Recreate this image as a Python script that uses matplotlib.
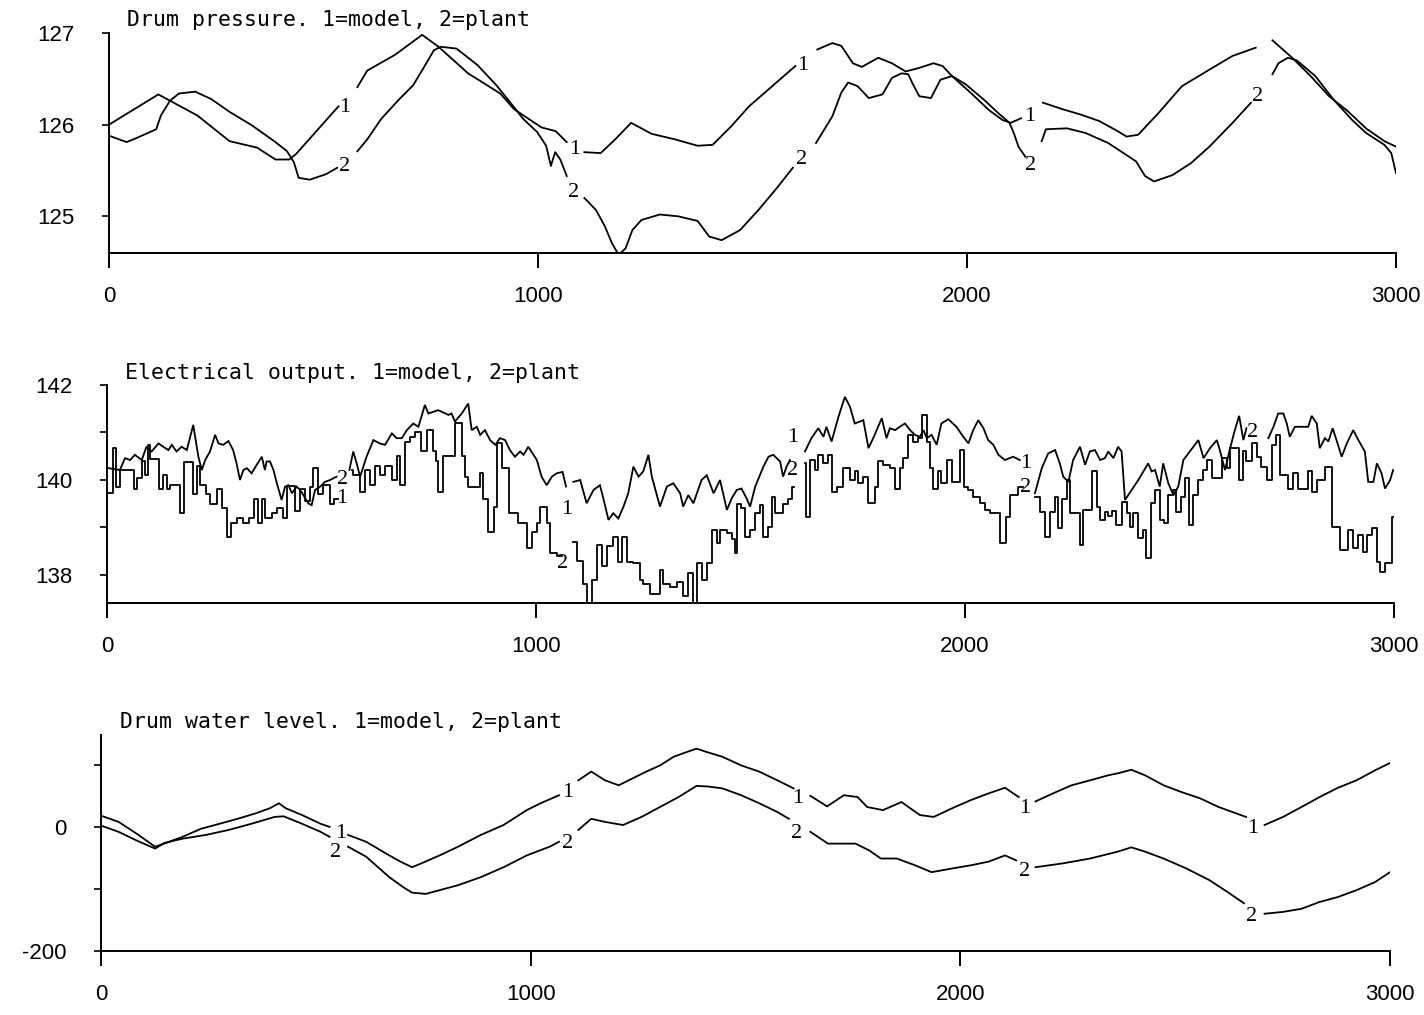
import numpy as np
import matplotlib
matplotlib.use("Agg")
import matplotlib.pyplot as plt

nan = np.nan

# ---------------- Panel 1: Drum pressure ----------------
dp_title = "Drum pressure. 1=model, 2=plant"
dp_model_t = [0, 115, 206, 281, 345, 388, 420, 436, 535, 555, 579, 602, 666, 730, 768, 837, 912, 944,
              1008, 1041, 1067, 1085, 1108, 1146, 1180, 1217, 1265, 1319, 1372, 1407, 1450, 1492, 1546,
              1600, 1625, 1651, 1686, 1707, 1734, 1755, 1793, 1825, 1857, 1889, 1922, 1943, 1965, 2008,
              2051, 2083, 2102, 2126, 2150, 2177, 2222, 2265, 2308, 2351, 2372, 2399, 2447, 2501, 2565,
              2619, 2673, 2690, 2712, 2758, 2801, 2844, 2887, 2930, 2973, 3000]
dp_model = [126.0, 126.33, 126.1, 125.82, 125.75, 125.62, 125.62, 125.68, 126.2, nan, 126.41, 126.59,
            126.76, 126.98, 126.85, 126.56, 126.34, 126.17, 125.97, 125.93, 125.81, nan, 125.7, 125.69,
            125.84, 126.02, 125.9, 125.84, 125.77, 125.78, 125.98, 126.2, 126.42, 126.64, nan, 126.82,
            126.89, 126.86, 126.67, 126.63, 126.73, 126.67, 126.58, 126.62, 126.67, 126.64, 126.53,
            126.35, 126.16, 126.05, 126.02, 126.07, nan, 126.24, 126.17, 126.11, 126.04, 125.93, 125.87,
            125.89, 126.13, 126.42, 126.6, 126.75, 126.84, nan, 126.92, 126.73, 126.53, 126.31, 126.15,
            125.96, 125.82, 125.76]
dp_plant_t = [0, 41, 67, 110, 121, 142, 163, 201, 238, 281, 334, 388, 415, 431, 442, 468, 506, 532, 555,
              579, 602, 634, 677, 709, 741, 757, 773, 810, 859, 903, 934, 966, 998, 1019, 1030, 1040,
              1052, 1067, 1085, 1108, 1135, 1156, 1172, 1188, 1204, 1220, 1241, 1284, 1327, 1372, 1399,
              1428, 1471, 1514, 1557, 1594, 1620, 1648, 1686, 1707, 1723, 1745, 1771, 1803, 1825, 1847,
              1863, 1874, 1889, 1916, 1938, 1965, 1997, 2040, 2072, 2099, 2109, 2120, 2136, 2155, 2174,
              2184, 2233, 2276, 2329, 2394, 2415, 2436, 2479, 2522, 2565, 2619, 2662, 2690, 2712, 2726,
              2748, 2769, 2812, 2855, 2898, 2930, 2973, 2989, 3000]
dp_plant = [125.88, 125.81, 125.86, 125.95, 126.1, 126.26, 126.34, 126.36, 126.28, 126.14, 125.99, 125.81,
            125.71, 125.59, 125.42, 125.4, 125.46, 125.53, nan, 125.71, 125.84, 126.06, 126.28, 126.43,
            126.68, 126.81, 126.85, 126.83, 126.65, 126.43, 126.25, 126.06, 125.92, 125.77, 125.55,
            125.7, 125.62, 125.44, nan, 125.2, 125.07, 124.89, 124.71, 124.58, 124.65, 124.85, 124.96,
            125.02, 125.0, 124.95, 124.78, 124.74, 124.85, 125.07, 125.31, 125.53, nan, 125.8, 126.09,
            126.35, 126.46, 126.42, 126.29, 126.33, 126.51, 126.56, 126.55, 126.44, 126.31, 126.29,
            126.49, 126.53, 126.44, 126.27, 126.13, 126.02, 125.91, 125.76, 125.65, nan, 125.82, 125.95,
            125.96, 125.91, 125.8, 125.6, 125.44, 125.38, 125.45, 125.58, 125.76, 126.02, 126.24, nan,
            126.55, 126.67, 126.73, 126.7, 126.53, 126.27, 126.05, 125.91, 125.78, 125.69, 125.47]
dp_labels = [(550, 126.19, "1"), (550, 125.54, "2"), (1086, 125.73, "1"), (1082, 125.26, "2"),
             (1618, 126.64, "1"), (1615, 125.62, "2"), (2147, 126.09, "1"), (2147, 125.56, "2"),
             (2678, 126.31, "2")]
dp_yticks = [125, 126, 127]
dp_yticklabels = ["125", "126", "127"]

# ---------------- Panel 2: Electrical output ----------------
eo_title = "Electrical output. 1=model, 2=plant"
eo_model_t = [3, 30, 42, 54, 65, 81, 92, 104, 120, 131, 143, 151, 162, 174, 186, 201, 213, 221, 229, 240,
              252, 260, 271, 283, 294, 302, 310, 318, 326, 337, 349, 361, 368, 372, 380, 388, 396, 407,
              415, 423, 431, 442, 450, 458, 469, 477, 485, 497, 508, 520, 535, 550, 565, 574, 582, 590,
              605, 621, 636, 648, 664, 675, 687, 699, 714, 726, 741, 749, 772, 796, 803, 811, 827, 842,
              850, 862, 870, 881, 893, 905, 916, 928, 939, 951, 963, 971, 982, 994, 1002, 1013, 1025,
              1037, 1048, 1062, 1070, 1078, 1087, 1103, 1118, 1134, 1149, 1157, 1169, 1180, 1192, 1204,
              1215, 1227, 1239, 1250, 1262, 1270, 1289, 1305, 1320, 1336, 1343, 1355, 1367, 1375, 1386,
              1398, 1414, 1429, 1445, 1456, 1468, 1479, 1491, 1499, 1511, 1530, 1542, 1553, 1569, 1576,
              1584, 1592, 1610, 1627, 1642, 1658, 1670, 1677, 1689, 1705, 1720, 1732, 1743, 1755, 1763,
              1775, 1786, 1794, 1806, 1817, 1825, 1837, 1848, 1860, 1872, 1883, 1895, 1903, 1911, 1922,
              1934, 1945, 1961, 1980, 1996, 2008, 2019, 2031, 2043, 2054, 2066, 2078, 2093, 2112, 2128,
              2145, 2163, 2179, 2194, 2210, 2221, 2229, 2241, 2252, 2268, 2280, 2291, 2303, 2315, 2326,
              2334, 2346, 2357, 2365, 2373, 2404, 2427, 2435, 2443, 2454, 2462, 2474, 2486, 2497, 2509,
              2524, 2544, 2556, 2571, 2587, 2594, 2606, 2618, 2629, 2639, 2649, 2656, 2680, 2707, 2719,
              2730, 2742, 2750, 2757, 2769, 2785, 2800, 2808, 2820, 2827, 2839, 2847, 2857, 2866, 2878,
              2890, 2905, 2917, 2932, 2940, 2952, 2960, 2971, 2979, 2991, 2998]
eo_model = [140.25, 140.21, 140.46, 140.42, 140.53, 140.42, 140.7, 140.6, 140.77, 140.7, 140.63, 140.74,
            140.6, 140.7, 140.63, 141.16, 140.49, 140.21, 140.42, 140.6, 140.95, 140.77, 140.74, 140.82,
            140.63, 140.35, 140.0, 140.21, 140.25, 140.14, 140.32, 140.49, 140.21, 140.39, 140.39,
            140.21, 139.93, 139.58, 139.86, 139.89, 139.72, 139.86, 139.79, 139.68, 139.51, 139.47,
            139.79, 139.86, 139.96, 140.0, 140.07, nan, 140.21, 140.6, 140.35, 140.07, 140.49, 140.84,
            140.77, 140.74, 140.98, 140.88, 140.88, 141.05, 141.19, 141.12, 141.58, 141.4, 141.47,
            141.37, 141.4, 141.23, 141.4, 141.61, 141.05, 141.12, 140.95, 141.05, 140.84, 140.74,
            140.88, 140.84, 140.63, 140.49, 140.6, 140.53, 140.7, 140.53, 140.42, 140.07, 139.89, 140.07,
            140.14, 140.17, 139.86, nan, 139.96, 140.0, 139.51, 139.79, 139.89, 139.61, 139.16, 139.3,
            139.19, 139.44, 139.72, 140.28, 140.07, 140.18, 140.53, 140.07, 139.44, 139.86, 139.93,
            139.72, 139.44, 139.68, 139.51, 139.72, 140.0, 140.1, 139.72, 140.0, 139.37, 139.61, 139.79,
            139.82, 139.61, 139.44, 139.86, 140.28, 140.49, 140.53, 140.39, 140.07, 140.28, 140.42, nan,
            140.6, 140.88, 141.09, 140.91, 141.12, 140.81, 141.33, 141.75, 141.54, 141.19, 141.23,
            141.26, 140.67, 140.88, 141.05, 141.3, 140.88, 141.09, 141.05, 141.12, 141.19, 141.05,
            140.95, 140.91, 141.05, 140.88, 140.95, 140.74, 141.19, 141.28, 141.12, 140.91, 140.77,
            141.05, 141.26, 141.09, 140.84, 140.74, 140.53, 140.42, 140.49, 140.42, nan, 139.72, 140.25,
            140.56, 140.63, 140.35, 140.07, 139.96, 140.42, 140.7, 140.32, 140.6, 140.63, 140.42, 140.46,
            140.6, 140.46, 140.7, 140.6, 139.58, 140.0, 140.35, 140.18, 140.21, 139.86, 140.35, 139.93,
            139.68, 139.86, 140.42, 140.6, 140.84, 140.46, 140.67, 140.84, 140.63, 140.21, 140.67,
            141.05, 141.35, 140.84, 141.09, nan, 140.88, 141.12, 141.4, 141.4, 141.19, 140.91, 141.12,
            141.12, 141.12, 141.35, 141.19, 140.67, 140.88, 140.81, 141.09, 140.84, 140.49, 140.77,
            141.05, 140.84, 140.6, 139.96, 139.96, 140.35, 140.14, 139.82, 140.0, 140.21]
# plant: level changes (steps)
eo_plant_t = [0, 13, 21, 30, 62, 71, 81, 89, 95, 100, 122, 131, 139, 147, 169, 180, 201, 210, 217, 231,
              240, 256, 267, 279, 290, 302, 318, 330, 343, 351, 361, 368, 384, 396, 411, 419, 438, 450,
              462, 473, 481, 493, 504, 520, 528, 539, 570, 574, 590, 601, 612, 625, 636, 648, 664, 675,
              683, 695, 706, 718, 731, 745, 761, 768, 772, 784, 811, 827, 835, 842, 870, 877, 889, 901,
              908, 920, 936, 959, 978, 990, 1002, 1009, 1025, 1033, 1048, 1060, 1087, 1095, 1110, 1118,
              1130, 1142, 1153, 1165, 1180, 1192, 1200, 1211, 1227, 1242, 1250, 1266, 1289, 1297, 1312,
              1328, 1343, 1355, 1367, 1375, 1386, 1398, 1410, 1421, 1429, 1445, 1456, 1464, 1468, 1479,
              1487, 1499, 1511, 1522, 1530, 1541, 1549, 1557, 1576, 1588, 1596, 1602, 1627, 1629, 1639,
              1650, 1658, 1670, 1681, 1689, 1701, 1716, 1732, 1743, 1751, 1763, 1775, 1790, 1798, 1809,
              1825, 1837, 1848, 1856, 1868, 1879, 1891, 1899, 1911, 1918, 1926, 1938, 1945, 1957, 1969,
              1988, 1998, 2008, 2019, 2035, 2046, 2058, 2081, 2095, 2105, 2124, 2136, 2163, 2175, 2186,
              2198, 2210, 2217, 2225, 2237, 2245, 2268, 2276, 2295, 2307, 2315, 2326, 2334, 2342, 2353,
              2365, 2377, 2385, 2392, 2404, 2416, 2423, 2433, 2443, 2454, 2464, 2474, 2486, 2493, 2503,
              2513, 2521, 2532, 2544, 2554, 2563, 2575, 2598, 2610, 2618, 2639, 2649, 2656, 2668, 2680,
              2691, 2703, 2715, 2726, 2734, 2754, 2765, 2777, 2799, 2808, 2821, 2839, 2855, 2874, 2893,
              2905, 2917, 2928, 2936, 2948, 2960, 2967, 2979, 2995, 3000]
eo_plant = [139.72, 140.67, 139.86, 140.2, 139.8, 140.05, 140.4, 140.1, 140.74, 140.45, 139.8, 140.1,
            139.8, 139.9, 139.3, 140.37, 139.7, 140.3, 139.9, 139.7, 139.5, 139.8, 139.4, 138.8, 139.1,
            139.2, 139.1, 139.2, 139.6, 139.1, 139.6, 139.2, 139.3, 139.4, 139.2, 139.87, 139.35, 139.8,
            139.55, 139.85, 140.25, 139.7, 139.9, 139.5, 139.6, nan, 140.2, 140.1, 139.75, 140.2, 139.9,
            140.3, 140.1, 140.3, 140.0, 140.5, 139.9, 140.8, 140.9, 141.0, 140.6, 141.05, 140.6, 140.4,
            139.75, 140.5, 141.2, 140.5, 140.07, 139.86, 140.14, 139.6, 138.9, 139.44, 140.77, 140.25,
            139.3, 139.1, 138.56, 138.9, 139.1, 139.44, 139.1, 138.46, 138.39, nan, 138.7, 138.3, 137.82,
            137.4, 137.9, 138.63, 138.18, 138.6, 138.8, 138.28, 138.8, 138.28, 138.25, 137.9, 137.8,
            137.6, 138.1, 137.82, 137.75, 137.85, 137.55, 138.04, 137.4, 138.25, 137.9, 138.25, 138.95,
            138.67, 138.95, 138.88, 138.75, 138.46, 139.5, 139.4, 138.8, 138.95, 139.3, 139.47, 138.8,
            139.0, 139.65, 139.3, 139.5, 139.6, 139.86, nan, 140.35, 139.23, 140.42, 140.21, 140.53,
            140.35, 140.53, 139.75, 139.86, 140.25, 140.0, 140.18, 139.93, 140.07, 139.51, 139.86,
            140.39, 140.32, 140.25, 139.82, 140.25, 140.46, 140.95, 140.81, 140.88, 141.37, 140.81,
            140.25, 139.82, 140.18, 139.93, 140.42, 139.96, 140.63, 139.86, 139.79, 139.65, 139.51,
            139.37, 139.3, 138.67, 139.23, 139.68, 139.86, nan, 139.65, 139.33, 138.81, 139.33, 139.65,
            138.98, 139.6, 140.0, 139.3, 138.63, 139.37, 140.18, 139.44, 139.16, 139.33, 139.25, 139.35,
            139.05, 139.54, 139.3, 139.0, 139.3, 138.77, 138.95, 138.35, 139.51, 139.79, 139.16, 139.1,
            139.68, 139.79, 139.33, 139.65, 140.04, 139.05, 139.68, 140.0, 140.21, 140.42, 140.04,
            140.46, 140.25, 140.67, 140.0, 140.6, 140.39, 140.77, 140.49, 140.28, 140.0, 140.74, 140.95,
            140.1, 139.82, 140.14, 139.82, 140.18, 139.75, 140.0, 140.28, 139.02, 138.53, 138.95,
            138.56, 138.84, 138.49, 138.85, 138.98, 138.28, 138.07, 138.25, 139.23, 139.23]
eo_labels = [(548, 139.62, "1"), (548, 140.0, "2"), (1072, 139.37, "1"), (1061, 138.25, "2"),
             (1599, 140.9, "1"), (1599, 140.2, "2"), (2142, 140.35, "1"), (2142, 139.84, "2"),
             (2671, 141.0, "2")]
eo_yticks = [138, 139, 140, 141, 142]
eo_yticklabels = ["138", "", "140", "", "142"]

# ---------------- Panel 3: Drum water level ----------------
wl_title = "Drum water level. 1=model, 2=plant"
wl_model_t = [0, 41, 83, 126, 147, 190, 233, 276, 318, 361, 393, 414, 430, 468, 511, 532, 550, 575, 617,
              671, 697, 724, 745, 788, 831, 884, 937, 991, 1023, 1066, 1088, 1111, 1141, 1173, 1205,
              1237, 1269, 1301, 1333, 1365, 1386, 1408, 1446, 1490, 1532, 1574, 1612, 1630, 1651, 1690,
              1729, 1761, 1783, 1820, 1863, 1906, 1938, 1981, 2024, 2066, 2104, 2136, 2155, 2175, 2216,
              2259, 2302, 2344, 2371, 2398, 2430, 2473, 2515, 2558, 2601, 2633, 2665, 2685, 2708, 2751,
              2794, 2836, 2879, 2922, 2965, 3000]
wl_model = [18, 8, -11, -32, -27, -16, -3, 5, 13, 22, 30, 38, 30, 19, 5, 0, nan, -13, -24, -46, -56, -65,
            -59, -46, -32, -13, 3, 27, 38, 51, nan, 75, 89, 75, 67, 78, 89, 99, 113, 121, 126, 121, 113,
            99, 89, 75, 62, nan, 50, 33, 51, 48, 32, 27, 40, 19, 16, 30, 43, 54, 63, 48, nan, 41, 54, 67,
            75, 83, 87, 92, 83, 67, 56, 46, 32, 24, 16, nan, 3, 16, 32, 48, 63, 75, 91, 103]
wl_plant_t = [0, 41, 83, 126, 147, 190, 244, 297, 350, 404, 425, 468, 511, 532, 550, 575, 617, 671, 703,
              724, 756, 788, 831, 884, 937, 991, 1044, 1066, 1088, 1111, 1141, 1173, 1215, 1258, 1301,
              1344, 1386, 1413, 1446, 1490, 1532, 1574, 1601, 1625, 1651, 1692, 1724, 1756, 1788, 1815,
              1852, 1895, 1933, 1981, 2024, 2066, 2104, 2130, 2155, 2175, 2237, 2302, 2366, 2398, 2430,
              2473, 2526, 2580, 2622, 2660, 2685, 2708, 2751, 2794, 2836, 2879, 2922, 2965, 3000]
wl_plant = [2, -8, -22, -35, -26, -19, -13, -5, 5, 16, 17, 5, -8, -16, nan, -32, -48, -81, -97, -106,
            -108, -102, -94, -81, -65, -46, -32, -24, nan, -5, 13, 8, 3, 16, 32, 48, 66, 65, 62, 51, 38,
            24, 13, nan, -8, -27, -27, -27, -38, -51, -51, -62, -73, -67, -62, -56, -46, -54, nan, -65,
            -59, -51, -40, -33, -40, -51, -67, -86, -105, -123, nan, -140, -137, -132, -121, -113, -102,
            -89, -73]
wl_labels = [(558, -10, "1"), (545, -41, "2"), (1087, 56, "1"), (1085, -26, "2"), (1622, 46, "1"),
             (1620, -11, "2"), (2150, 30, "1"), (2150, -72, "2"), (2681, -3, "1"), (2678, -145, "2")]
wl_yticks = [-200, -100, 0, 100]
wl_yticklabels = ["-200", "", "0", ""]

xticks = [0, 1000, 2000, 3000]
xticklabels = ["0", "1000", "2000", "3000"]

# ---------------- figure ----------------
W, H = 1424, 1015
fig = plt.figure(figsize=(W / 100, H / 100), dpi=100)
fig.patch.set_facecolor("white")

TICKFONT = {"family": ["Liberation Sans", "DejaVu Sans"], "size": 16}
LBLFONT = {"family": ["Liberation Serif", "DejaVu Serif"], "size": 16}
TITLEFONT = {"family": ["DejaVu Sans Mono"], "size": 15.5}


def px_axes(left, right, top, bottom):
    return [left / W, 1 - bottom / H, (right - left) / W, (bottom - top) / H]


panels = [
    dict(rect=px_axes(109, 1396, 33, 253), ylim=(124.6, 127.0), title=dp_title, title_xy=(127, 20),
         model=(dp_model_t, dp_model), plant=(dp_plant_t, dp_plant), step=False, labels=dp_labels,
         yt=dp_yticks, ytl=dp_yticklabels),
    dict(rect=px_axes(107, 1394, 385, 603), ylim=(137.41, 142.0), title=eo_title, title_xy=(125, 373),
         model=(eo_model_t, eo_model), plant=(eo_plant_t, eo_plant), step=True, labels=eo_labels,
         yt=eo_yticks, ytl=eo_yticklabels),
    dict(rect=px_axes(101, 1390, 735, 951), ylim=(-200, 148), title=wl_title, title_xy=(120, 722),
         model=(wl_model_t, wl_model), plant=(wl_plant_t, wl_plant), step=False, labels=wl_labels,
         yt=wl_yticks, ytl=wl_yticklabels),
]

for p in panels:
    ax = fig.add_axes(p["rect"])
    ax.set_facecolor("white")
    mt, mv = p["model"]
    pt, pv = p["plant"]
    ax.plot(mt, mv, color="black", lw=1.3, solid_joinstyle="miter")
    if p["step"]:
        ax.step(pt, pv, where="post", color="black", lw=1.3)
    else:
        ax.plot(pt, pv, color="black", lw=1.3)
    for (t, v, s) in p["labels"]:
        ax.text(t, v, s, ha="center", va="center", fontdict=LBLFONT, color="black")
    ax.set_xlim(0, 3000)
    ax.set_ylim(*p["ylim"])
    for side in ("top", "right"):
        ax.spines[side].set_visible(False)
    for side in ("left", "bottom"):
        ax.spines[side].set_linewidth(1.4)
    ax.set_xticks(xticks)
    ax.set_xticklabels(xticklabels, fontdict=TICKFONT)
    ax.set_yticks(p["yt"])
    ax.set_yticklabels(p["ytl"], fontdict=TICKFONT)
    ax.tick_params(axis="x", direction="out", length=11, width=1.4, pad=13)
    ax.tick_params(axis="y", direction="out", length=5, width=1.2, pad=20)
    fig.text(p["title_xy"][0] / W, 1 - p["title_xy"][1] / H, p["title"], ha="left", va="center",
             fontdict=TITLEFONT, color="black")

fig.savefig("out.png", dpi=100, facecolor="white")
